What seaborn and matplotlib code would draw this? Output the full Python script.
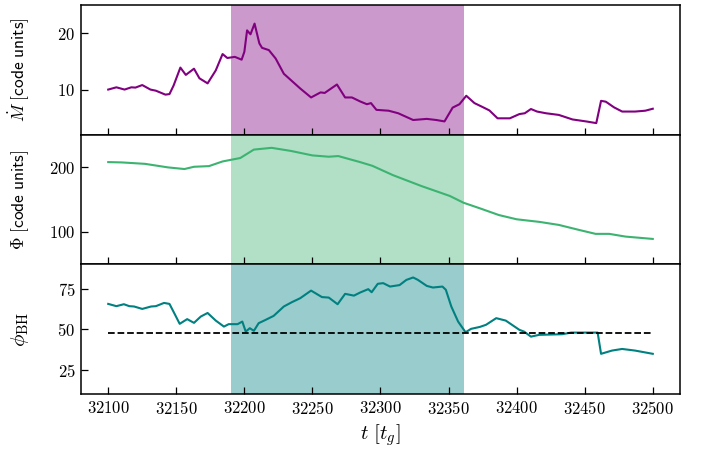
import matplotlib
matplotlib.use("Agg")
import matplotlib.pyplot as plt
import seaborn as sns
import numpy as np
import pandas as pd

# ---- data ----
t_mdot = [32100, 32106, 32112, 32117, 32120, 32125, 32131, 32135, 32142, 32145,
          32148, 32153, 32157, 32163, 32167, 32173, 32179, 32184, 32187.5, 32193,
          32198, 32200, 32202, 32204.5, 32207.5, 32211, 32213, 32218, 32223, 32229,
          32235, 32241, 32249, 32256, 32259, 32268, 32274, 32279, 32285, 32290,
          32293, 32297, 32306, 32313, 32324, 32334, 32341, 32347, 32353, 32358,
          32363, 32369, 32375, 32380, 32386, 32395, 32402, 32406, 32410.5, 32415,
          32421.5, 32431, 32441, 32451, 32458.5, 32462, 32465.5, 32471.5, 32477.5,
          32487, 32494.5, 32500]
mdot = [10.0, 10.4, 10.0, 10.4, 10.35, 10.8, 10.0, 9.8, 9.1, 9.2,
        10.7, 13.9, 12.6, 13.7, 12.0, 11.1, 13.4, 16.3, 15.6, 15.8,
        15.3, 16.7, 20.5, 19.8, 21.7, 18.2, 17.4, 17.0, 15.5, 12.8,
        11.5, 10.2, 8.6, 9.5, 9.4, 10.9, 8.6, 8.6, 7.9, 7.4,
        7.6, 6.4, 6.25, 5.8, 4.6, 4.8, 4.6, 4.35, 6.8, 7.4,
        8.9, 7.6, 6.9, 6.3, 4.9, 4.9, 5.65, 5.8, 6.55, 6.1,
        5.8, 5.5, 4.7, 4.35, 4.05, 8.0, 7.85, 6.85, 6.1,
        6.1, 6.25, 6.6]

t_phi = [32100, 32110, 32127, 32144, 32156, 32163, 32174, 32184, 32197, 32207,
         32220, 32234, 32250, 32262, 32269, 32285, 32294, 32309, 32330, 32351,
         32361, 32373, 32387, 32400, 32417, 32431, 32446, 32458, 32468, 32480, 32500]
phi = [207.7, 207.2, 205.0, 199.5, 197.0, 200.5, 201.5, 208.7, 214.0, 227.0,
       229.7, 225.0, 218.0, 216.0, 217.0, 207.7, 202.0, 187.7, 170.8, 155.4,
       145.0, 136.4, 126.0, 119.5, 115.4, 110.8, 103.0, 97.0, 97.0, 92.8, 89.2]

t_bh = [32100, 32106, 32111.5, 32115.5, 32119, 32125, 32131.5, 32135, 32141, 32145,
        32148.5, 32152.5, 32158, 32163, 32168, 32173, 32179, 32185, 32188.5, 32195,
        32198.5, 32201, 32204, 32207, 32210.5, 32215.5, 32221.5, 32229, 32235, 32241,
        32249, 32257, 32262, 32268.5, 32274, 32280.5, 32285, 32291, 32293.5, 32298,
        32302, 32307, 32314, 32319, 32324, 32327.5, 32334, 32338.5, 32345.5, 32348,
        32352, 32357, 32362.5, 32366.5, 32373, 32377.5, 32385, 32392, 32402, 32405.5,
        32410.5, 32416.5, 32433.5, 32440, 32458, 32459.5, 32462, 32470, 32477.5,
        32487, 32500]
phi_bh = [65.6, 64.2, 65.4, 64.2, 64.0, 62.5, 64.0, 64.2, 66.2, 65.6,
          59.9, 53.3, 56.2, 53.9, 57.8, 60.0, 55.3, 51.6, 53.1, 53.1,
          54.7, 48.5, 50.6, 49.0, 53.7, 55.7, 58.2, 64.0, 66.7, 69.1,
          73.8, 69.8, 69.5, 65.4, 71.8, 70.7, 72.6, 74.7, 72.8, 78.0,
          78.4, 76.3, 77.2, 80.4, 81.9, 80.4, 76.7, 75.7, 76.3, 74.3,
          64.0, 54.7, 48.1, 50.2, 51.4, 52.7, 56.8, 55.3, 49.6, 48.5,
          45.4, 46.5, 46.9, 47.9, 47.9, 47.9, 34.8, 36.8, 37.8,
          36.8, 34.8]

threshold = 47.5
shade_start, shade_end = 32190, 32361

# ---- style ----
plt.rcParams.update({
    "font.family": "serif",
    "font.serif": ["cmr10", "DejaVu Serif"],
    "mathtext.fontset": "cm",
    "axes.formatter.use_mathtext": True,
    "axes.unicode_minus": False,
    "font.size": 12,
    "axes.linewidth": 1.1,
    "xtick.direction": "in",
    "ytick.direction": "in",
    "xtick.major.size": 5,
    "ytick.major.size": 5,
    "xtick.major.width": 0.9,
    "ytick.major.width": 0.9,
})

fig = plt.figure(figsize=(7.03, 4.5), dpi=100)
gs = fig.add_gridspec(3, 1, left=0.1152, right=0.9673, top=0.9889, bottom=0.1244, hspace=0)
axes = [fig.add_subplot(gs[i]) for i in range(3)]
for a in axes[1:]:
    a.sharex(axes[0])

specs = [
    (t_mdot, mdot, "purple", r"$\dot{M}\ [\mathsf{code\ units}]$", (2, 25), [10, 20], 12.5),
    (t_phi, phi, "mediumseagreen", r"$\Phi\ [\mathsf{code\ units}]$", (50, 250), [100, 200], 12.5),
    (t_bh, phi_bh, "teal", r"$\phi_{\rm BH}$", (10, 90), [25, 50, 75], 15),
]

for ax, (tt, yy, col, lab, ylim, yt, fs) in zip(axes, specs):
    df = pd.DataFrame({"t": tt, "v": yy})
    ax.axvspan(shade_start, shade_end, color=col, alpha=0.4, lw=0)
    sns.lineplot(data=df, x="t", y="v", ax=ax, color=col, lw=1.5, sort=False)
    ax.set_ylim(*ylim)
    ax.set_yticks(yt)
    ax.set_ylabel(lab, fontsize=fs)
    ax.set_xlabel("")
    ax.tick_params(top=False, right=False, labelsize=12, pad=4)

dfl = pd.DataFrame({"t": [t_bh[0], t_bh[-1]], "v": [threshold, threshold]})
sns.lineplot(data=dfl, x="t", y="v", ax=axes[2], color="black", lw=1.3, linestyle="--")

axes[0].set_xlim(32080, 32520)
axes[0].set_xticks([32100, 32150, 32200, 32250, 32300, 32350, 32400, 32450, 32500])
for a in axes[:2]:
    a.tick_params(labelbottom=False)
axes[2].set_xlabel(r"$t\ [t_g]$", fontsize=15)

for a in axes:
    a.yaxis.set_label_coords(-0.083, 0.5)

fig.savefig("out.png", dpi=100)
